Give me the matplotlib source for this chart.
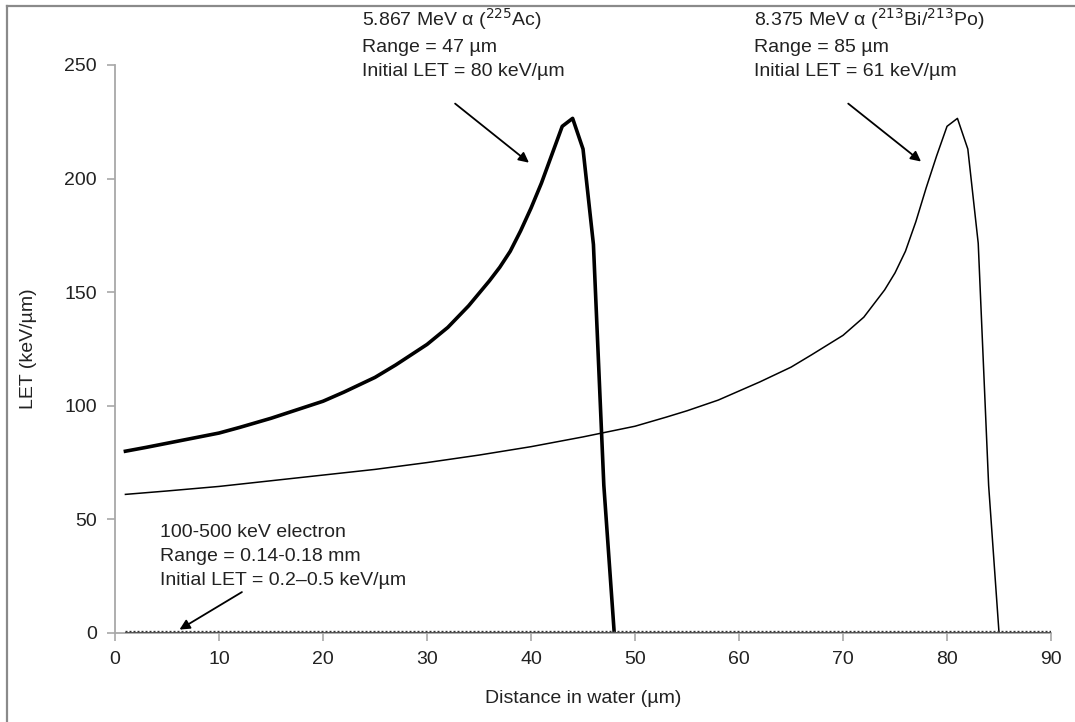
import matplotlib.pyplot as plt
from matplotlib.lines import Line2D

plt.rcParams['font.family'] = ['Liberation Sans', 'DejaVu Sans']

# 5.867 MeV alpha (225Ac), thick line
ac_x = [1, 3, 5, 7, 10, 12, 15, 18, 20, 22, 25, 27, 30, 32, 34, 36, 37, 38, 39, 40,
        41, 42, 43, 44, 45, 46, 47, 48]
ac_let = [80, 81.7, 83.5, 85.3, 88, 90.5, 94.5, 99, 102, 106, 112.5, 118, 127, 134.5, 144,
          155, 161, 168, 177, 187, 198, 210.5, 223, 226.5, 213, 171, 65, 0]

# 8.375 MeV alpha (213Bi/213Po), thin line
bi_x = [1, 5, 10, 15, 20, 25, 30, 35, 40, 45, 50, 53, 55, 58, 60, 62, 65, 67, 70, 72,
        74, 75, 76, 77, 78, 79, 80, 81, 82, 83, 84, 85]
bi_let = [61, 62.5, 64.5, 67, 69.5, 72, 75, 78.3, 82, 86.3, 91, 95, 97.8, 102.5, 106.5,
          110.5, 117, 122.5, 131, 139, 151, 158.5, 168, 181, 196, 210, 223, 226.5, 213,
          171.5, 65, 0]

# 100-500 keV electron
el_x = [1, 90]
el_let = [0.35, 0.35]

fig = plt.figure(figsize=(10.75, 7.22), dpi=100)
ax = fig.add_axes([0.107, 0.1233, 0.8707, 0.7867])

ax.plot(ac_x, ac_let, color='black', lw=2.6, solid_joinstyle='round')
ax.plot(bi_x, bi_let, color='black', lw=1.1, solid_joinstyle='round')
ax.plot(el_x, el_let, color='#333333', lw=2.4, ls=(0, (0.6, 0.6)), zorder=3)
ax.plot(el_x, el_let, color='#555555', lw=0.7, zorder=3)

ax.set_xlim(0, 90)
ax.set_ylim(0, 250)
ax.set_xticks(range(0, 91, 10))
ax.set_yticks(range(0, 251, 50))
for side in ['top', 'right']:
    ax.spines[side].set_visible(False)
for side in ['left', 'bottom']:
    ax.spines[side].set_color('#a8a8a8')
    ax.spines[side].set_linewidth(1.3)
ax.tick_params(direction='out', length=6, width=1.2, color='#a8a8a8',
               labelsize=14, labelcolor='#222222', pad=7)
ax.set_xlabel('Distance in water (µm)', fontsize=14, color='#222222', labelpad=16)
ax.set_ylabel('LET (keV/µm)', fontsize=14, color='#222222', labelpad=20)

txt = dict(fontsize=14, color='#222222', linespacing=1.55, va='top', ha='left',
           annotation_clip=False)
arrow = dict(arrowstyle='-|>', color='black', lw=1.3, mutation_scale=15, shrinkA=0, shrinkB=0)

ax.annotate('5.867 MeV α ($^{225}$Ac)\nRange = 47 µm\nInitial LET = 80 keV/µm',
            xy=(23.7, 276), **txt)
ax.annotate('', xy=(39.8, 207), xytext=(32.7, 233), arrowprops=arrow)

ax.annotate('8.375 MeV α ($^{213}$Bi/$^{213}$Po)\nRange = 85 µm\nInitial LET = 61 keV/µm',
            xy=(61.4, 276), **txt)
ax.annotate('', xy=(77.5, 207.5), xytext=(70.5, 233), arrowprops=arrow)

ax.annotate('100-500 keV electron\nRange = 0.14-0.18 mm\nInitial LET = 0.2–0.5 keV/µm',
            xy=(4.3, 48), **txt)
ax.annotate('', xy=(6.2, 1.5), xytext=(12.2, 18), arrowprops=arrow)

# outer frame (top and left edges)
fig.add_artist(Line2D([7 / 1075, 7 / 1075], [0, 1 - 6 / 722], transform=fig.transFigure,
                      color='#8a8a8a', lw=1.6))
fig.add_artist(Line2D([7 / 1075, 1], [1 - 6 / 722, 1 - 6 / 722], transform=fig.transFigure,
                      color='#8a8a8a', lw=1.6))

fig.savefig('out.png', dpi=100)
